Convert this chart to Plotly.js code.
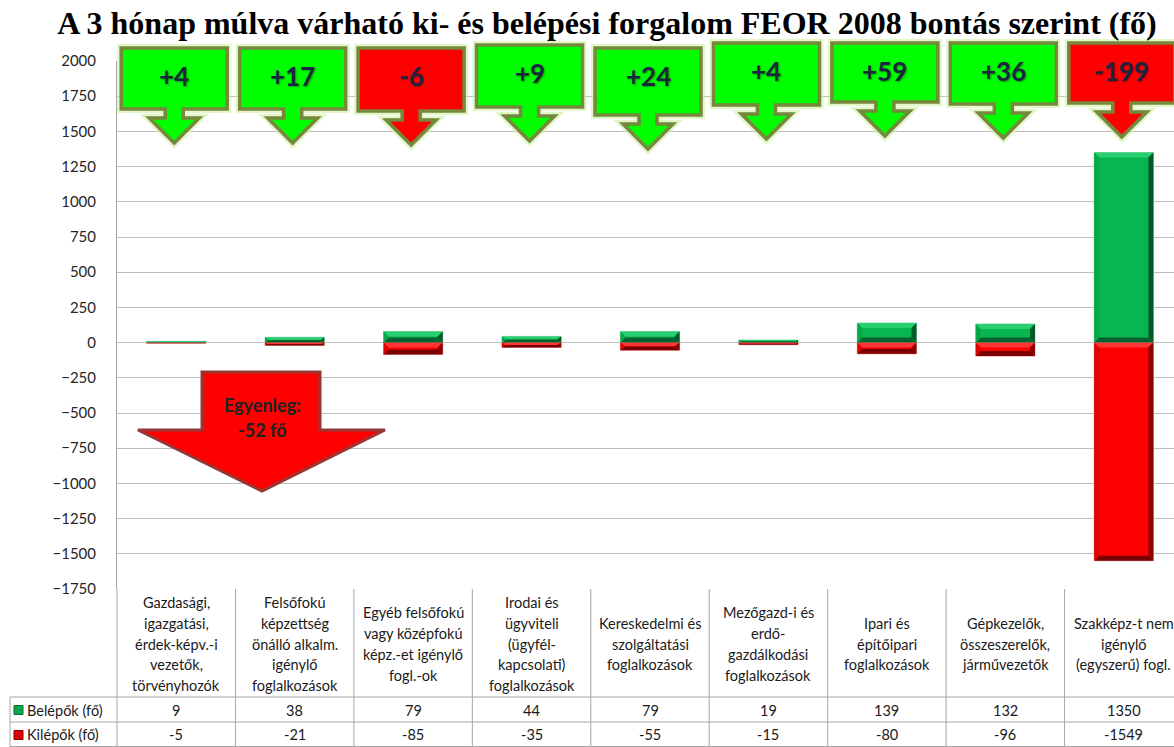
<!DOCTYPE html>
<html><head><meta charset="utf-8">
<script src="https://cdn.plot.ly/plotly-3.0.1.min.js"></script>
<style>html,body{margin:0;padding:0;overflow:hidden;background:#fff}</style>
</head><body><div id="chart" style="width:1190px;height:747px"></div>
<script>
// ---------- DATA ----------
const categories = [
  "Gazdasági, igazgatási, érdek-képv.-i vezetők, törvényhozók",
  "Felsőfokú képzettség önálló alkalm. igénylő foglalkozások",
  "Egyéb felsőfokú vagy középfokú képz.-et igénylő fogl.-ok",
  "Irodai és ügyviteli (ügyfél-kapcsolati) foglalkozások",
  "Kereskedelmi és szolgáltatási foglalkozások",
  "Mezőgazd-i és erdő-gazdálkodási foglalkozások",
  "Ipari és építőipari foglalkozások",
  "Gépkezelők, összeszerelők, járművezetők",
  "Szakképz-t nem igénylő (egyszerű) fogl."
];
const categoryLines = [
  ["Gazdasági,", "igazgatási,", "érdek-képv.-i", "vezetők,", "törvényhozók"],
  ["Felsőfokú", "képzettség", "önálló alkalm.", "igénylő", "foglalkozások"],
  ["Egyéb felsőfokú", "vagy középfokú", "képz.-et igénylő", "fogl.-ok"],
  ["Irodai és", "ügyviteli", "(ügyfél-", "kapcsolati)", "foglalkozások"],
  ["Kereskedelmi és", "szolgáltatási", "foglalkozások"],
  ["Mezőgazd-i és", "erdő-", "gazdálkodási", "foglalkozások"],
  ["Ipari és", "építőipari", "foglalkozások"],
  ["Gépkezelők,", "összeszerelők,", "járművezetők"],
  ["Szakképz-t nem", "igénylő", "(egyszerű) fogl."]
];
const belepok = [9, 38, 79, 44, 79, 19, 139, 132, 1350];
const kilepok = [-5, -21, -85, -35, -55, -15, -80, -96, -1549];
const seriesNames = ["Belépők (fő)", "Kilépők (fő)"];
const titleText = "A 3 hónap múlva várható ki- és belépési forgalom FEOR 2008 bontás szerint (fő)";
const balanceLabel = "Egyenleg:";
const balanceUnit = "fő";

// ---------- LAYOUT CONSTANTS (pixels) ----------
const FIG_W = 1190, FIG_H = 747;
const L = 117, T = 61, W = 1066, H = 528;
const YMIN = -1750, YMAX = 2000;
const nCat = categories.length;
const xp = px => (px - L) / W;
const yp = py => (T + H - py) / H;
const catCx = i => L + (i + 0.5) * W / nCat;
const pxPerUnitY = H / (YMAX - YMIN);
const unitPerPxX = 1 / (W / nCat);

const FONT = "Lato, 'Open Sans', sans-serif";
const GREEN = "#08b650", RED = "#ff0000";

const shapes = [];
const annotations = [];

// ---------- bar bevels (computed from data) ----------
function poly(pts, color) {
  const d = "M " + pts.map(p => p[0] + "," + p[1]).join(" L ") + " Z";
  shapes.push({type: "path", xref: "x", yref: "y", path: d, fillcolor: color, line: {width: 0}, layer: "above"});
}
function bevel(i, v, cols) {
  const hw = 0.25;
  const x0 = i - hw, x1 = i + hw;
  const top = Math.max(v, 0), bot = Math.min(v, 0);
  const hpx = Math.abs(v) * pxPerUnitY;
  const bpx = Math.min(5, hpx / 2);
  const bh = bpx / pxPerUnitY;
  const bx = Math.min(5, hpx / 2 + 1) * unitPerPxX;
  poly([[x0, top], [x1, top], [x1 - bx, top - bh], [x0 + bx, top - bh]], cols.top);
  poly([[x0, bot], [x1, bot], [x1 - bx, bot + bh], [x0 + bx, bot + bh]], cols.bottom);
  poly([[x1, bot], [x1, top], [x1 - bx, top - bh], [x1 - bx, bot + bh]], cols.right);
  poly([[x0, bot], [x0, top], [x0 + bx, top - bh], [x0 + bx, bot + bh]], cols.left);
}
const gCols = {top: "#27cf70", bottom: "#02612c", right: "#015a28", left: "#05a849"};
const rCols = {top: "#ff3535", bottom: "#7a0000", right: "#8c0000", left: "#df0000"};
for (let i = 0; i < nCat; i++) {
  bevel(i, kilepok[i], rCols);
  bevel(i, belepok[i], gCols);
}

// ---------- callouts with balance ----------
const boxTop = [48, 48, 48, 45, 48, 43, 43, 43, 43];
const boxBot = [109, 109, 111, 107, 115, 105, 102, 104, 103];
function pPath(pts) {
  return "M " + pts.map(p => xp(p[0]).toFixed(5) + "," + yp(p[1]).toFixed(5)).join(" L ") + " Z";
}
for (let i = 0; i < nCat; i++) {
  const bal = belepok[i] + kilepok[i];
  const cx = catCx(i) - 2;
  const t = boxTop[i], b = boxBot[i];
  const pts = [[cx - 53, t], [cx + 53, t], [cx + 53, b], [cx + 9, b], [cx + 9, b + 9], [cx + 25, b + 9],
               [cx, b + 34], [cx - 25, b + 9], [cx - 9, b + 9], [cx - 9, b], [cx - 53, b]];
  const d = pPath(pts);
  shapes.push({type: "path", xref: "paper", yref: "paper", path: d, fillcolor: "rgba(0,0,0,0)",
    line: {color: "rgba(205,242,160,0.6)", width: 8}, layer: "above"});
  shapes.push({type: "path", xref: "paper", yref: "paper", path: d, fillcolor: bal >= 0 ? "#00ff00" : "#ff0000",
    line: {color: "#76873e", width: 3.5}, layer: "above"});
  annotations.push({xref: "paper", yref: "paper", x: xp(cx), y: yp(t + 28), yanchor: "middle", xanchor: "center",
    text: "<b>" + (bal > 0 ? "+" : "") + bal + "</b>", showarrow: false,
    font: {family: FONT, size: 26, color: "#1c2540", shadow: "1px 1px 2px rgba(0,0,0,0.35)"}});
}

// ---------- total balance arrow ----------
const totalBal = belepok.reduce((a, b) => a + b, 0) + kilepok.reduce((a, b) => a + b, 0);
shapes.push({type: "path", xref: "paper", yref: "paper",
  path: pPath([[202, 372], [320, 372], [320, 430], [385, 430], [262, 491], [138, 430], [202, 430]]),
  fillcolor: "#ff0000", line: {color: "#953735", width: 3}, layer: "above"});
annotations.push({xref: "paper", yref: "paper", x: xp(262), y: yp(405), xanchor: "center", yanchor: "middle", showarrow: false,
  text: "<b>" + balanceLabel + "</b>", font: {family: FONT, size: 18, color: "#222"}});
annotations.push({xref: "paper", yref: "paper", x: xp(262), y: yp(430), xanchor: "center", yanchor: "middle", showarrow: false,
  text: "<b>" + totalBal + " " + balanceUnit + "</b>", font: {family: FONT, size: 18, color: "#222"}});

// ---------- data table ----------
const TL = "#a6a6a6";
function pline(x0, y0, x1, y1) {
  shapes.push({type: "line", xref: "paper", yref: "paper", x0: xp(x0), y0: yp(y0), x1: xp(x1), y1: yp(y1),
    line: {color: TL, width: 1}, layer: "above"});
}
for (let k = 0; k <= nCat; k++) {
  const x = L + k * W / nCat;
  pline(x, 589, x, 747);
}
pline(10, 697, 10, 747);
pline(10, 697, L + W, 697);
pline(10, 722, L + W, 722);
pline(10, 746.5, L + W, 746.5);

const TFS = 14.5;
for (let i = 0; i < nCat; i++) {
  const lines = categoryLines[i];
  const n = lines.length;
  lines.forEach((ln, j) => {
    annotations.push({xref: "paper", yref: "paper", x: xp(catCx(i)), y: yp(644 + (j - (n - 1) / 2) * 20.8),
      yanchor: "middle", xanchor: "center", showarrow: false, text: ln,
      font: {family: FONT, size: TFS, color: "#1a1a1a"}});
  });
  annotations.push({xref: "paper", yref: "paper", x: xp(catCx(i)), y: yp(710), xanchor: "center", yanchor: "middle", showarrow: false,
    text: String(belepok[i]), font: {family: FONT, size: TFS, color: "#1a1a1a"}});
  annotations.push({xref: "paper", yref: "paper", x: xp(catCx(i)), y: yp(735), xanchor: "center", yanchor: "middle", showarrow: false,
    text: String(kilepok[i]), font: {family: FONT, size: TFS, color: "#1a1a1a"}});
}
// legend keys
[[710, "#0aa64c", "#036a30"], [735, "#e00000", "#8a0000"]].forEach((k, j) => {
  shapes.push({type: "rect", xref: "paper", yref: "paper", x0: xp(14), x1: xp(23), y0: yp(k[0] - 4.5), y1: yp(k[0] + 4.5),
    fillcolor: k[1], line: {color: k[2], width: 1}, layer: "above"});
  annotations.push({xref: "paper", yref: "paper", x: xp(25), y: yp(k[0]), xanchor: "left", yanchor: "middle",
    showarrow: false, text: seriesNames[j], font: {family: FONT, size: TFS, color: "#1a1a1a"}});
});

// ---------- traces ----------
const traces = [
  {type: "bar", name: seriesNames[0], x: categories, y: belepok, width: 0.5, base: 0,
   marker: {color: GREEN, line: {color: "#8fd9ad", width: 1}}, hoverinfo: "y+name"},
  {type: "bar", name: seriesNames[1], x: categories, y: kilepok, width: 0.5, base: 0,
   marker: {color: RED, line: {color: "#f3a0a0", width: 1}}, hoverinfo: "y+name"}
];

const layout = {
  width: FIG_W, height: FIG_H,
  margin: {l: L, r: FIG_W - L - W, t: T, b: FIG_H - T - H, pad: 0},
  paper_bgcolor: "#fff", plot_bgcolor: "#fff",
  showlegend: false, barmode: "overlay",
  title: {text: "<b>" + titleText + "</b>", x: 607 / FIG_W, xanchor: "center", xref: "container",
    y: 1 - 23 / FIG_H, yanchor: "middle", yref: "container",
    font: {family: "'Liberation Serif', 'Times New Roman', serif", size: 32, color: "#000"}},
  xaxis: {type: "category", range: [-0.5, nCat - 0.5], showticklabels: false, showgrid: false,
    zeroline: false, showline: false, ticks: "", fixedrange: true},
  yaxis: {range: [YMIN, YMAX], dtick: 250, tick0: 0, showgrid: true, gridcolor: "#bdbdbd", gridwidth: 1,
    zeroline: false, showline: true, linecolor: "#a6a6a6", linewidth: 1, ticks: "",
    ticklabelstandoff: 17, tickfont: {family: FONT, size: 15, color: "#262626"}, fixedrange: true},
  shapes: shapes,
  annotations: annotations
};

Plotly.newPlot("chart", traces, layout, {displayModeBar: false, staticPlot: true});
</script>
</body></html>
